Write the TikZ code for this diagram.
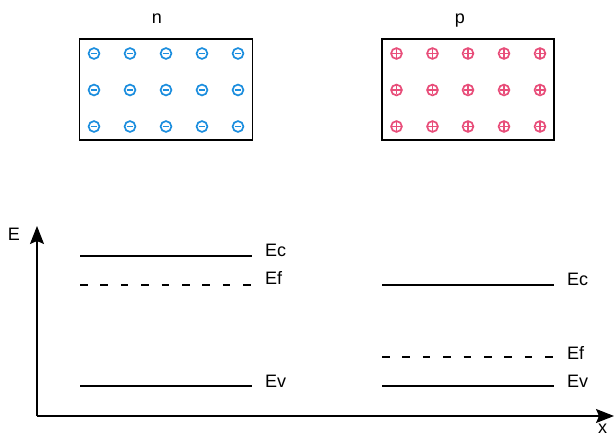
\documentclass[tikz,border=0pt]{standalone}
\usepackage{fontspec}
\setmainfont{Liberation Sans}
\usetikzlibrary{arrows.meta}
\definecolor{nblue}{RGB}{28,142,222}
\definecolor{ppink}{RGB}{232,78,122}
\tikzset{
  slab/.style={draw=black, line width=1.3pt, inner sep=0},
  chg/.style={circle, line width=1.7pt, minimum size=10.8pt, inner sep=0},
  negchg/.style={chg, draw=nblue, path picture={
      \draw[nblue, line width=1.7pt]
        ([xshift=-3.4pt]path picture bounding box.center) -- ([xshift=3.4pt]path picture bounding box.center);}},
  poschg/.style={chg, draw=ppink, path picture={
      \draw[ppink, line width=1.3pt]
        ([xshift=-4.5pt]path picture bounding box.center) -- ([xshift=4.5pt]path picture bounding box.center)
        ([yshift=-4.5pt]path picture bounding box.center) -- ([yshift=4.5pt]path picture bounding box.center);}},
  txt/.style={font=\fontsize{18}{20}\selectfont, inner sep=0},
  lbl/.style={txt, anchor=base west},
  level/.style={line width=1.1pt},
  fermi/.style={line width=1.1pt, dash pattern=on 7.5pt off 12.9pt},
  axis/.style={line width=1.1pt, -{Stealth[length=18pt, width=14pt, inset=3pt]}}
}
\begin{document}
\begin{tikzpicture}[x=1pt, y=-1pt]
\useasboundingbox (0,0) rectangle (614,436);

% doped slabs
\node[slab, minimum width=173pt, minimum height=101pt] (nbox) at (166,89.5) {};
\node[slab, minimum width=172pt, minimum height=101pt] (pbox) at (468,89.5) {};
\node[txt, anchor=base] (nlab) at (157,24) {n};
\node[txt, anchor=base] (plab) at (460,24) {p};

% fixed charges
\foreach \c [count=\i] in {94,130,166,202,238}
  \foreach \r [count=\j] in {53.5,90,126.5}
    \node[negchg] (n\i\j) at (\c,\r) {};
\foreach \c [count=\i] in {396.5,432.5,468,504,540}
  \foreach \r [count=\j] in {53.5,90,126.5}
    \node[poschg] (p\i\j) at (\c,\r) {};

% axes
\coordinate (O) at (37,416);
\coordinate (Etip) at (37,226);
\coordinate (xtip) at (614,416);
\draw[axis] (O) -- (Etip);
\draw[axis] (O) -- (xtip);
\node[txt, anchor=base] (Elab) at (14,240.5) {E};
\node[txt, anchor=base] (xlab) at (602.5,433.5) {x};

% n-side levels
\coordinate (nEcL) at (80,256);  \coordinate (nEcR) at (252,256);
\coordinate (nEfL) at (80,285);  \coordinate (nEfR) at (252,285);
\coordinate (nEvL) at (80,386);  \coordinate (nEvR) at (252,386);
\draw[level] (nEcL) -- (nEcR);
\draw[fermi] (nEfL) -- (nEfR);
\draw[level] (nEvL) -- (nEvR);
\node[lbl] (nEc) at (265,256) {Ec};
\node[lbl] (nEf) at (265,284) {Ef};
\node[lbl] (nEv) at (265,387.5) {Ev};

% p-side levels
\coordinate (pEcL) at (382,285);  \coordinate (pEcR) at (554,285);
\coordinate (pEfL) at (382,357);  \coordinate (pEfR) at (554,357);
\coordinate (pEvL) at (382,386);  \coordinate (pEvR) at (554,386);
\draw[level] (pEcL) -- (pEcR);
\draw[fermi] (pEfL) -- (pEfR);
\draw[level] (pEvL) -- (pEvR);
\node[lbl] (pEc) at (567,285) {Ec};
\node[lbl] (pEf) at (567,359.5) {Ef};
\node[lbl] (pEv) at (567,387.5) {Ev};
\end{tikzpicture}
\end{document}
